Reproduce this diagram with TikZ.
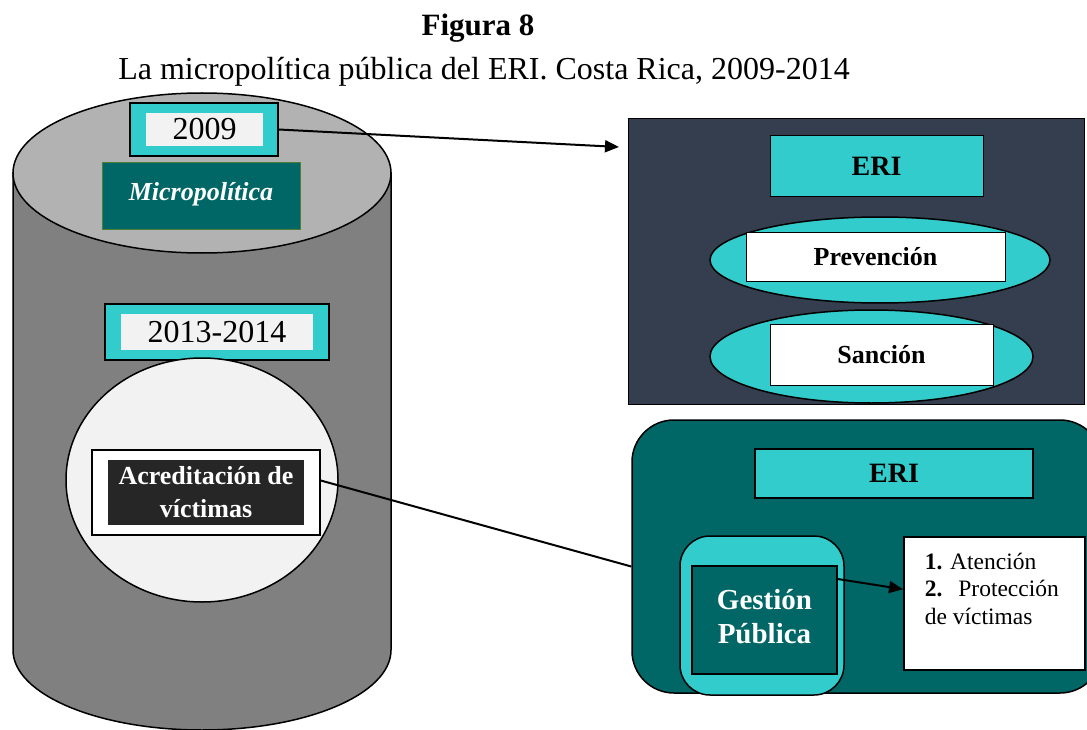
\documentclass[tikz,border=0pt]{standalone}
\usepackage{fontspec}
\setmainfont{Liberation Serif}
\usetikzlibrary{shapes.geometric,arrows.meta}
\definecolor{aqua}{HTML}{33CCCC}
\definecolor{deepteal}{HTML}{006666}
\definecolor{slatenavy}{HTML}{343E4F}
\definecolor{lidgray}{HTML}{B2B2B2}
\definecolor{bodygray}{HTML}{808080}
\definecolor{pale}{HTML}{F2F2F2}
\definecolor{ink}{HTML}{262626}
\definecolor{leafgreen}{HTML}{4E7D36}
\newcommand{\fs}[2]{\fontsize{#1}{#2}\selectfont}
\begin{document}
\begin{tikzpicture}[x=1pt,y=-1pt,
  outline/.style={draw=black, line width=1.5pt},
  box/.style={rectangle, inner sep=0pt, align=center},
  aquabox/.style={box, outline, fill=aqua},
  palebox/.style={box, fill=pale, font=\fs{32}{38}},
  oval/.style={ellipse, inner sep=0pt, outline},
  boldlabel/.style={font=\bfseries\fs{26}{33}},
  link/.style={line width=2pt},
  arrowlink/.style={link, -{Triangle[length=14pt,width=12pt]}}]
\useasboundingbox (0,0) rectangle (1087,730);

% title
\node[font=\bfseries\fs{31}{36}] (fig) at (478,28) {Figura 8};
\node[font=\fs{32}{38}] (subtitle) at (484,72) {La micropolítica pública del ERI. Costa Rica, 2009-2014};

% cylinder
\draw[outline, fill=bodygray] (13,173) -- (13,650)
  arc[start angle=180, end angle=360, x radius=189pt, y radius=80pt] -- (391,173) -- cycle;
\draw[outline, fill=lidgray] (202,173) ellipse[x radius=189pt, y radius=80pt];

% 2009
\node[aquabox, minimum width=148pt, minimum height=53pt] (y2009) at (204,129.5) {};
\node[palebox, minimum width=117pt, minimum height=33pt] (y2009t) at (204.5,129.5) {2009};

% Micropolitica
\node[box, fill=deepteal, draw=leafgreen, line width=1pt, text=white,
  font=\bfseries\itshape\fs{26}{32}, minimum width=198pt, minimum height=67pt] (micro) at (201,196.5)
  {\raisebox{10pt}{Micropolítica}};

% 2013-2014
\node[aquabox, minimum width=224pt, minimum height=56pt] (y2013) at (217,332) {};
\node[palebox, minimum width=192pt, minimum height=36pt] (y2013t) at (217,332) {2013-2014};

% light disc with accreditation
\node[oval, fill=pale, minimum width=272pt, minimum height=244pt] (disc) at (202,480) {};
\node[box, outline, fill=white, minimum width=228pt, minimum height=85pt] (acred) at (206,492.5) {};
\node[box, fill=ink, text=white, boldlabel, minimum width=196pt, minimum height=65pt] (acredt) at (206,492.5)
  {Acreditación de\\víctimas};

% upper panel
\node[box, fill=slatenavy, draw=black, line width=1pt, minimum width=456pt, minimum height=285pt] (panelA) at (856,261.5) {};
\node[aquabox, line width=1pt, font=\bfseries\fs{28}{34}, minimum width=213pt, minimum height=61pt] (eriA) at (876.5,166.5) {ERI};
\node[oval, fill=aqua, minimum width=340pt, minimum height=86pt] (prevO) at (880,260) {};
\node[box, fill=white, draw=black, line width=1pt, boldlabel, minimum width=259pt, minimum height=48pt] (prev) at (875.5,257) {Prevención};
\node[oval, fill=aqua, minimum width=323pt, minimum height=93pt] (sancO) at (871.5,356.5) {};
\node[box, fill=white, draw=black, line width=1pt, boldlabel, minimum width=223pt, minimum height=61pt] (sanc) at (881.5,354.5) {Sanción};

% lower panel
\node[box, fill=deepteal, outline, rounded corners=42pt, minimum width=470pt, minimum height=273pt] (panelB) at (867,556.5) {};
\node[aquabox, font=\bfseries\fs{28}{34}, minimum width=278pt, minimum height=49pt] (eriB) at (894,473.5) {ERI};
\node[aquabox, rounded corners=30pt, minimum width=164pt, minimum height=159pt] (gestO) at (762,615.5) {};
\node[box, outline, fill=deepteal, text=white, font=\bfseries\fs{29}{34}, minimum width=145pt, minimum height=108pt] (gest) at (764.5,620)
  {\raisebox{7pt}{\begin{tabular}{@{}c@{}}Gestión\\Pública\end{tabular}}};
\node[box, outline, fill=white, align=left, anchor=north west, inner xsep=21pt, inner ysep=16pt, font=\fs{23.5}{27.5}] (list) at (903,536)
  {\parbox[t][101pt][t]{139pt}{\textbf{1.} Atención\\ \textbf{2.}\hspace{16pt}Protección\\ de víctimas}};

% connectors
\coordinate (panelAin) at (619,147);
\draw[arrowlink] (y2009.east) -- (panelAin);
\draw[link] ([yshift=12pt]acred.east) -- ([yshift=-10pt]panelB.west);
\draw[arrowlink] ([yshift=41pt]gest.east) -- ([yshift=14pt]list.west);
\end{tikzpicture}
\end{document}
